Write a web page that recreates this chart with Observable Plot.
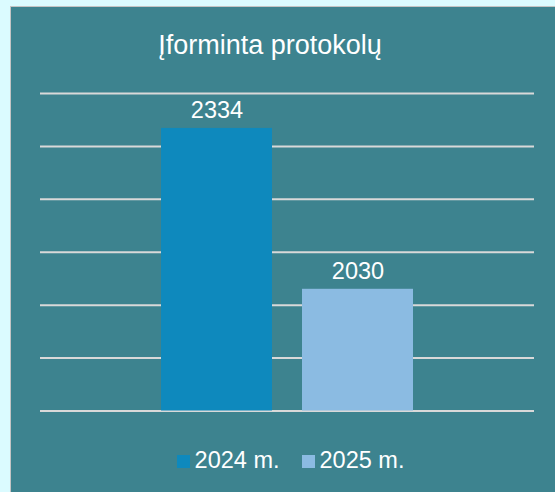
<!DOCTYPE html>
<html><head><meta charset="utf-8">
<script src="https://cdn.jsdelivr.net/npm/d3@7"></script>
<script src="https://cdn.jsdelivr.net/npm/@observablehq/plot@0.6"></script>
<style>
html,body{margin:0;padding:0;}
body{background:#DBFBFF;width:555px;height:492px;overflow:hidden;position:relative;font-family:"Liberation Sans",Arial,sans-serif;}
#panel{position:absolute;left:10px;top:6px;width:560px;height:500px;background:#3D838F;border-left:1.5px solid #C4C4C4;border-top:1.5px solid #C4C4C4;}
#title{position:absolute;left:0;top:32px;width:540px;text-align:center;color:#fff;font-size:27px;line-height:27px;}
#legend{position:absolute;left:0;top:449px;width:581px;display:flex;justify-content:center;color:#fff;font-size:23.5px;line-height:23.5px;}
.item{display:flex;align-items:center;margin:0 11px;}
.sw{width:13px;height:13px;margin-right:5px;margin-top:2px;}
#chart svg{position:absolute;left:0;top:0;}
</style>
</head><body>
<div id="panel"></div>
<div id="title"></div>
<div id="chart"></div>
<div id="legend"></div>
<script>
const titleText = "Įforminta protokolų";
const categories = ["2024 m.", "2025 m."];
const values = [2334, 2030];
const yTicks = [1800, 1900, 2000, 2100, 2200, 2300, 2400];

const palette = ["#0E89BD", "#8BBBE2"];
const data = categories.map((c, i) => ({cat: c, value: values[i]}));

document.getElementById("title").textContent = titleText;

const chart = Plot.plot({
  width: 555,
  height: 492,
  marginLeft: 40,
  marginRight: 21,
  marginTop: 93,
  marginBottom: 81.5,
  style: "background: transparent; overflow: visible;",
  x: {domain: categories, paddingInner: 0.2128, paddingOuter: 0.858, axis: null},
  y: {domain: [yTicks[0], yTicks[yTicks.length - 1]], axis: null},
  color: {domain: categories, range: palette},
  marks: [
    Plot.ruleY(yTicks, {stroke: "#D9D9D9", strokeWidth: 2}),
    Plot.barY(data, {x: "cat", y1: yTicks[0], y2: "value", fill: "cat"}),
    Plot.text(data, {x: "cat", y: "value", text: d => String(d.value), lineAnchor: "bottom", dy: -10, fill: "#fff", fontSize: 23.5, fontFamily: "Liberation Sans, Arial, sans-serif"})
  ]
});
document.getElementById("chart").appendChild(chart);

const legend = document.getElementById("legend");
categories.forEach((c, i) => {
  const item = document.createElement("div");
  item.className = "item";
  const sw = document.createElement("span");
  sw.className = "sw";
  sw.style.background = palette[i];
  const t = document.createElement("span");
  t.textContent = c;
  item.appendChild(sw);
  item.appendChild(t);
  legend.appendChild(item);
});
</script>
</body></html>
